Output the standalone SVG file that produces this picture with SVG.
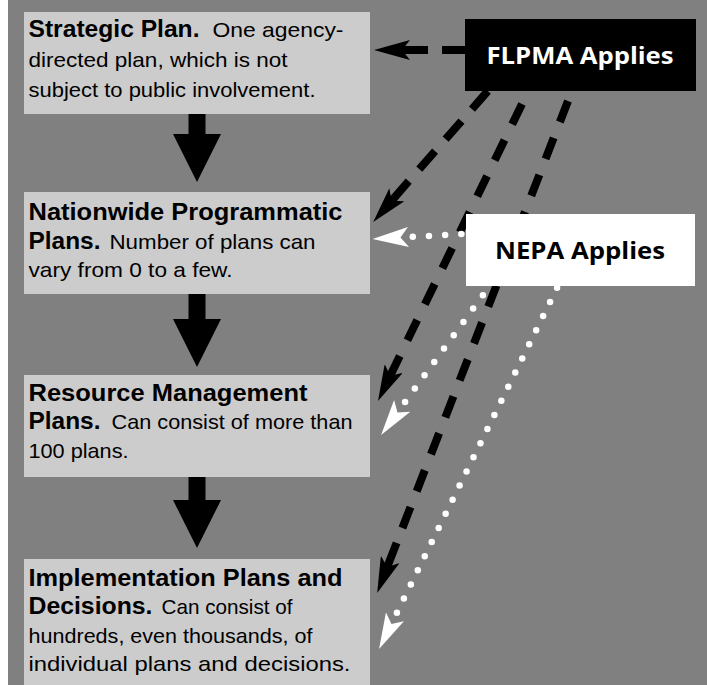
<svg xmlns="http://www.w3.org/2000/svg" width="707" height="685" viewBox="0 0 707 685">
  <style>
    .box { fill: #cccccc; }
    .t { font-family: "Liberation Sans", Arial, sans-serif; fill: #000; }
    .b { font-size: 23.5px; font-weight: 700; }
    .r { font-size: 21px; font-weight: 400; }
    .tag { font-family: "Open Sans", "Liberation Sans", sans-serif; font-size: 24px; font-weight: 700; }
    .block { fill: #000; }
    .dash { fill: none; stroke: #000; stroke-width: 8; }
    .shaft { fill: none; stroke: #000; stroke-width: 8; marker-end: url(#headBlack); }
    .dots { fill: none; stroke: #fff; stroke-width: 6.5; stroke-linecap: round; stroke-dasharray: 0 16.2; }
    .tipw { fill: none; stroke: none; marker-end: url(#headWhite); }
  </style>
  <defs>
    <!-- notched arrowheads; the path end sits on the notch -->
    <marker id="headBlack" viewBox="0 -10 36 20" refX="8" refY="0" markerWidth="36" markerHeight="20" markerUnits="userSpaceOnUse" orient="auto">
      <path d="M36,0 L0,-10 L8,0 L0,10 Z" fill="#000"/>
    </marker>
    <marker id="headWhite" viewBox="0 -10 36 20" refX="8" refY="0" markerWidth="36" markerHeight="20" markerUnits="userSpaceOnUse" orient="auto">
      <path d="M36,0 L0,-10 L8,0 L0,10 Z" fill="#fff"/>
    </marker>
  </defs>

  <!-- page -->
  <rect x="0" y="0" width="707" height="685" fill="#ffffff"/>
  <rect x="8" y="0" width="699" height="685" fill="#808080"/>

  <g id="connectors">
    <!-- block arrows down the plan hierarchy -->
    <path class="block" d="M188.5,114 L205.5,114 L205.5,134 L221,134 L197,182 L173,134 L188.5,134 Z"/>
    <path class="block" d="M188.5,294 L205.5,294 L205.5,319 L221,319 L197,367 L173,319 L188.5,319 Z"/>
    <path class="block" d="M188.5,477 L205.5,477 L205.5,500 L221,500 L197,548 L173,500 L188.5,500 Z"/>

    <!-- FLPMA: dashed arrows -->
    <g id="flpma-strategic">
      <path class="dash" d="M466,50 L442,50"/>
      <path class="shaft" d="M428,50 L402,50"/>
    </g>
    <g id="flpma-nationwide">
      <path class="dash" d="M487.8,91 L419.3,169.2" stroke-dasharray="24 16"/>
      <path class="shaft" d="M408.7,181.2 L391.6,200.8"/>
    </g>
    <g id="flpma-resource">
      <path class="dash" d="M522,104 L407.2,340.6" stroke-dasharray="22.5 17.5"/>
      <path class="shaft" d="M399.8,355.9 L390.2,375.7"/>
    </g>
    <g id="flpma-implementation">
      <path class="dash" d="M568,101 L402.4,528" stroke-dasharray="22.5 17.1"/>
      <path class="shaft" d="M396.6,542.9 L387.3,566.9"/>
    </g>

    <!-- NEPA: dotted arrows -->
    <g id="nepa-nationwide">
      <path class="dots" d="M412.8,236.8 L480,233"/>
      <path class="tipw" d="M412.8,236.8 L400.5,237.5"/>
    </g>
    <g id="nepa-resource">
      <path class="dots" d="M405.1,401.9 L494,280" style="stroke-dasharray: 0 16.5"/>
      <path class="tipw" d="M405.1,401.9 L397.5,412.4"/>
    </g>
    <g id="nepa-implementation">
      <path class="dots" d="M396.9,612.7 L560.9,280" style="stroke-dasharray: 0 15.75"/>
      <path class="tipw" d="M396.9,612.7 L391.4,623.9"/>
    </g>
  </g>

  <g id="strategic">
    <rect class="box" x="24" y="12" width="346" height="102"/>
    <text class="t b" x="28.5" y="37" textLength="171" lengthAdjust="spacingAndGlyphs">Strategic Plan.</text>
    <text class="t r" x="212.5" y="37" textLength="131" lengthAdjust="spacingAndGlyphs">One agency-</text>
    <text class="t r" x="28.5" y="67" textLength="259" lengthAdjust="spacingAndGlyphs">directed plan, which is not</text>
    <text class="t r" x="28.5" y="96.5" textLength="287" lengthAdjust="spacingAndGlyphs">subject to public involvement.</text>
  </g>

  <g id="nationwide">
    <rect class="box" x="24" y="192" width="346" height="102"/>
    <text class="t b" x="28.5" y="219.5" textLength="314" lengthAdjust="spacingAndGlyphs">Nationwide Programmatic</text>
    <text class="t b" x="28.5" y="248.5" textLength="72" lengthAdjust="spacingAndGlyphs">Plans.</text>
    <text class="t r" x="109.5" y="248.5" textLength="206" lengthAdjust="spacingAndGlyphs">Number of plans can</text>
    <text class="t r" x="28.5" y="277" textLength="204" lengthAdjust="spacingAndGlyphs">vary from 0 to a few.</text>
  </g>

  <g id="resource">
    <rect class="box" x="24" y="375" width="346" height="102"/>
    <text class="t b" x="28.5" y="400.5" textLength="279" lengthAdjust="spacingAndGlyphs">Resource Management</text>
    <text class="t b" x="28.5" y="429" textLength="72" lengthAdjust="spacingAndGlyphs">Plans.</text>
    <text class="t r" x="111.5" y="429" textLength="241" lengthAdjust="spacingAndGlyphs">Can consist of more than</text>
    <text class="t r" x="28.5" y="457.5" textLength="100" lengthAdjust="spacingAndGlyphs">100 plans.</text>
  </g>

  <g id="implementation">
    <rect class="box" x="24" y="559" width="346" height="130"/>
    <text class="t b" x="28.5" y="586" textLength="314" lengthAdjust="spacingAndGlyphs">Implementation Plans and</text>
    <text class="t b" x="28.5" y="614" textLength="124" lengthAdjust="spacingAndGlyphs">Decisions.</text>
    <text class="t r" x="161.5" y="614" textLength="131" lengthAdjust="spacingAndGlyphs">Can consist of</text>
    <text class="t r" x="28.5" y="642.5" textLength="284" lengthAdjust="spacingAndGlyphs">hundreds, even thousands, of</text>
    <text class="t r" x="28.5" y="670.5" textLength="322" lengthAdjust="spacingAndGlyphs">individual plans and decisions.</text>
  </g>

  <g id="flpma">
    <rect x="465" y="19" width="231" height="72" fill="#000"/>
    <text class="tag" x="486.5" y="63.5" fill="#fff" textLength="187" lengthAdjust="spacingAndGlyphs">FLPMA Applies</text>
  </g>

  <g id="nepa">
    <rect x="466" y="214" width="229" height="72" fill="#fff"/>
    <text class="tag" x="495" y="259" fill="#000" textLength="170" lengthAdjust="spacingAndGlyphs">NEPA Applies</text>
  </g>
</svg>
